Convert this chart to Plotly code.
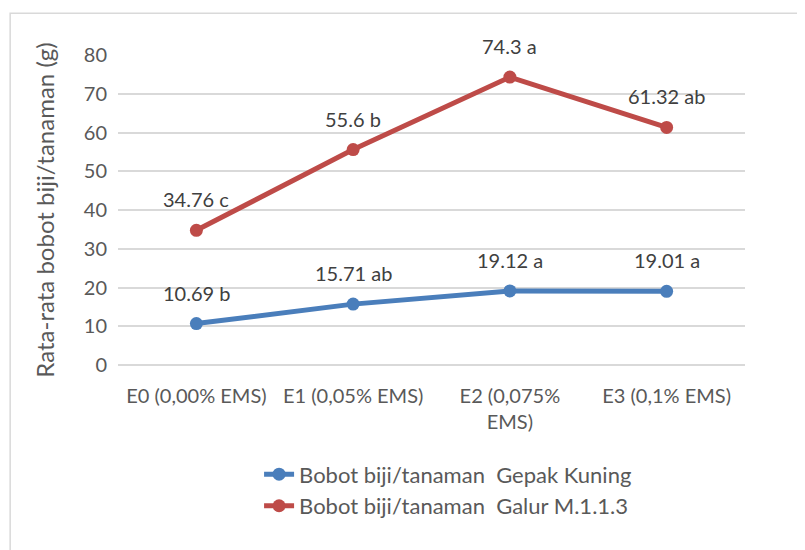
import plotly.graph_objects as go

categories = ["E0 (0,00% EMS)", "E1 (0,05% EMS)", "E2 (0,075%<br>EMS)", "E3 (0,1% EMS)"]
gepak_kuning = [10.69, 15.71, 19.12, 19.01]
gepak_labels = ["10.69 b", "15.71 ab", "19.12 a", "19.01 a"]
galur = [34.76, 55.6, 74.3, 61.32]
galur_labels = ["34.76 c", "55.6 b", "74.3 a", "61.32 ab"]

BLUE = "#4A7EBB"
RED = "#BE4B48"
INK = "#595959"
GRID = "#D9D9D9"
FONT = "Lato, Open Sans, sans-serif"

fig = go.Figure()
fig.add_trace(go.Scatter(
    x=categories, y=gepak_kuning, mode="lines+markers",
    name="Bobot biji/tanaman  Gepak Kuning",
    line=dict(color=BLUE, width=5), marker=dict(size=13, color=BLUE),
))
fig.add_trace(go.Scatter(
    x=categories, y=galur, mode="lines+markers",
    name="Bobot biji/tanaman  Galur M.1.1.3",
    line=dict(color=RED, width=5), marker=dict(size=13, color=RED),
))

# data labels sit well above each point
for ys, labels in ((gepak_kuning, gepak_labels), (galur, galur_labels)):
    for c, v, t in zip(categories, ys, labels):
        fig.add_annotation(x=c, y=v, text=t, showarrow=False, yshift=31,
                           font=dict(size=20, color="#404040", family=FONT))

# outer chart border
fig.add_shape(type="rect", xref="paper", yref="paper",
              x0=-0.172, x1=1.12, y0=-0.65, y1=1.135,
              line=dict(color="#D9D9D9", width=1.5), layer="below")

fig.update_layout(
    template="plotly_white",
    width=805, height=550,
    margin=dict(l=110, r=68, t=47, b=193),
    font=dict(family=FONT, size=20, color=INK),
    showlegend=True,
    legend=dict(x=0.225, y=-0.285, xanchor="left", yanchor="top",
                font=dict(size=22, color=INK), tracegroupgap=0,
                bgcolor="rgba(0,0,0,0)"),
    plot_bgcolor="white", paper_bgcolor="white",
)
fig.update_xaxes(showgrid=False, showline=False, zeroline=False,
                 range=[-0.5, 3.5], ticklabelstandoff=17,
                 tickfont=dict(size=20, color=INK))
fig.update_yaxes(range=[0, 80], dtick=10, showgrid=True, gridcolor=GRID,
                 gridwidth=1.5, zeroline=True, zerolinecolor=GRID, zerolinewidth=1.5,
                 showline=False, ticklabelstandoff=10,
                 tickfont=dict(size=20, color=INK),
                 title=dict(text="Rata-rata bobot biji/tanaman (g)",
                            font=dict(size=24, color=INK), standoff=22))

fig.write_html("out.html")
